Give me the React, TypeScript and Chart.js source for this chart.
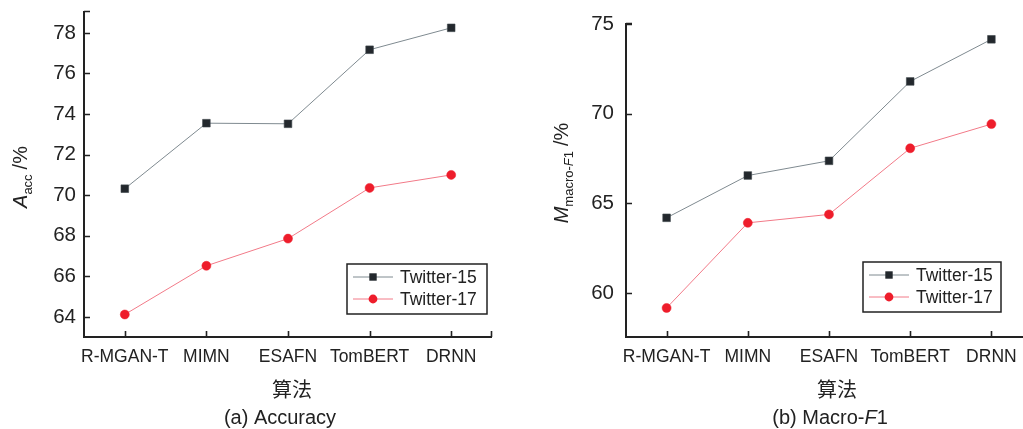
import React, { useEffect, useRef } from 'react';
import { Chart, registerables } from 'chart.js';

Chart.register(...registerables);

const categories = ['R-MGAN-T', 'MIMN', 'ESAFN', 'TomBERT', 'DRNN'];
const seriesNames = ['Twitter-15', 'Twitter-17'];
const accTwitter15 = [70.32, 73.55, 73.52, 77.17, 78.25];
const accTwitter17 = [64.12, 66.52, 67.86, 70.36, 71.0];
const f1Twitter15 = [64.19, 66.55, 67.37, 71.8, 74.15];
const f1Twitter17 = [59.16, 63.91, 64.38, 68.07, 69.42];
const accTicks = [64, 66, 68, 70, 72, 74, 76, 78];
const f1Ticks = [60, 65, 70, 75];
const xTitle = '算法';

const FONT = '"Liberation Sans", Arial, Helvetica, sans-serif';
const CJK = '"Noto Sans CJK SC", sans-serif';
const INK = '#222222';
const C15_LINE = '#7f8a90';
const C15_PT = '#23282d';
const C17_LINE = '#f27a88';
const C17_PT = '#ee1d2b';

type Part = { text: string; italic?: boolean; size: number; dy: number; gap?: number };

type Panel = {
  left: number;
  width: number;
  top: number;
  padRight: number;
  yAxisWidth: number;
  xAxisHeight: number;
  min: number;
  max: number;
  ticks: number[];
  tickPad: number;
  s15: number[];
  s17: number[];
  legend: { x: number; y: number; w: number; h: number };
  yTitle: { x: number; cy: number; parts: Part[] };
  xTitlePos: { x: number; y: number };
  caption: { x: number; y: number; parts: Part[] };
};

function partsWidth(ctx: CanvasRenderingContext2D, parts: Part[]) {
  let w = 0;
  for (const p of parts) {
    ctx.font = `${p.italic ? 'italic ' : ''}${p.size}px ${FONT}`;
    w += ctx.measureText(p.text).width + (p.gap || 0);
  }
  return w;
}

function drawParts(ctx: CanvasRenderingContext2D, parts: Part[], startX: number) {
  let x = startX;
  for (const p of parts) {
    ctx.font = `${p.italic ? 'italic ' : ''}${p.size}px ${FONT}`;
    x += p.gap || 0;
    ctx.fillText(p.text, x, p.dy);
    x += ctx.measureText(p.text).width;
  }
}

function makeDecor(panel: Panel) {
  return {
    id: 'decor',
    afterDraw(chart: any) {
      const ctx: CanvasRenderingContext2D = chart.ctx;
      const area = chart.chartArea;
      const xs = chart.scales.x;
      const ys = chart.scales.y;
      ctx.save();
      ctx.strokeStyle = INK;
      ctx.fillStyle = INK;
      // axes
      ctx.lineWidth = 2;
      ctx.beginPath();
      ctx.moveTo(area.left, area.top);
      ctx.lineTo(area.left, area.bottom);
      ctx.lineTo(area.right, area.bottom);
      ctx.stroke();
      // inward ticks
      ctx.lineWidth = 1.6;
      ctx.beginPath();
      for (const v of panel.ticks) {
        const py = Math.round(ys.getPixelForValue(v)) + 0.5;
        ctx.moveTo(area.left, py);
        ctx.lineTo(area.left + 6, py);
      }
      ctx.moveTo(area.left, area.top + 0.5);
      ctx.lineTo(area.left + 6, area.top + 0.5);
      categories.forEach((_, i) => {
        const px = Math.round(xs.getPixelForValue(i)) + 0.5;
        ctx.moveTo(px, area.bottom);
        ctx.lineTo(px, area.bottom - 6);
      });
      ctx.moveTo(area.right - 0.5, area.bottom);
      ctx.lineTo(area.right - 0.5, area.bottom - 6);
      ctx.stroke();

      // legend
      const lg = panel.legend;
      ctx.lineWidth = 1.5;
      ctx.strokeRect(lg.x, lg.y, lg.w, lg.h);
      const rows = [lg.y + 13, lg.y + 35];
      rows.forEach((ry, i) => {
        ctx.lineWidth = 1;
        ctx.strokeStyle = i === 0 ? C15_LINE : C17_LINE;
        ctx.beginPath();
        ctx.moveTo(lg.x + 6, ry);
        ctx.lineTo(lg.x + 46, ry);
        ctx.stroke();
        ctx.fillStyle = i === 0 ? C15_PT : C17_PT;
        if (i === 0) {
          ctx.fillRect(lg.x + 26 - 3.7, ry - 3.7, 7.4, 7.4);
        } else {
          ctx.beginPath();
          ctx.arc(lg.x + 26, ry, 4.4, 0, Math.PI * 2);
          ctx.fill();
        }
        ctx.fillStyle = INK;
        ctx.font = `17.5px ${FONT}`;
        ctx.textAlign = 'left';
        ctx.textBaseline = 'middle';
        ctx.fillText(seriesNames[i], lg.x + 53, ry + 1);
      });
      ctx.strokeStyle = INK;
      ctx.fillStyle = INK;

      // x title
      ctx.font = `20px ${CJK}`;
      ctx.textAlign = 'center';
      ctx.textBaseline = 'middle';
      ctx.fillText(xTitle, panel.xTitlePos.x, panel.xTitlePos.y);

      // caption
      ctx.textAlign = 'left';
      ctx.textBaseline = 'middle';
      const cw = partsWidth(ctx, panel.caption.parts);
      ctx.save();
      ctx.translate(panel.caption.x - cw / 2, panel.caption.y);
      drawParts(ctx, panel.caption.parts, 0);
      ctx.restore();

      // y title (rotated)
      ctx.textBaseline = 'alphabetic';
      const tw = partsWidth(ctx, panel.yTitle.parts);
      ctx.save();
      ctx.translate(panel.yTitle.x, panel.yTitle.cy);
      ctx.rotate(-Math.PI / 2);
      drawParts(ctx, panel.yTitle.parts, -tw / 2);
      ctx.restore();

      ctx.restore();
    },
  };
}

function makeChart(canvas: HTMLCanvasElement, panel: Panel) {
  return new Chart(canvas, {
    type: 'line',
    data: {
      labels: categories,
      datasets: [
        {
          label: seriesNames[0],
          data: panel.s15,
          borderColor: C15_LINE,
          borderWidth: 1,
          pointStyle: 'rect',
          pointRadius: 5.4,
          pointBackgroundColor: C15_PT,
          pointBorderColor: '#3c4449',
          pointBorderWidth: 0.6,
          tension: 0,
        },
        {
          label: seriesNames[1],
          data: panel.s17,
          borderColor: C17_LINE,
          borderWidth: 1,
          pointStyle: 'circle',
          pointRadius: 4.5,
          pointBackgroundColor: C17_PT,
          pointBorderColor: C17_PT,
          pointBorderWidth: 0.5,
          tension: 0,
        },
      ],
    },
    options: {
      responsive: false,
      animation: false,
      devicePixelRatio: 1,
      layout: { padding: { top: panel.top, left: 0, right: panel.padRight, bottom: 0 } },
      plugins: { legend: { display: false }, tooltip: { enabled: false }, title: { display: false } },
      scales: {
        x: {
          type: 'category',
          offset: true,
          grid: { display: false, drawTicks: false },
          border: { display: false },
          ticks: {
            font: { family: FONT, size: 17.5 },
            color: INK,
            padding: 10,
            maxRotation: 0,
            minRotation: 0,
            autoSkip: false,
          },
          afterFit: (s: any) => {
            s.height = panel.xAxisHeight;
            s.paddingLeft = 0;
            s.paddingRight = 0;
            s.paddingTop = 0;
            s.paddingBottom = 0;
          },
        },
        y: {
          type: 'linear',
          min: panel.min,
          max: panel.max,
          grid: { display: false, drawTicks: false },
          border: { display: false },
          ticks: {
            font: { family: FONT, size: 20.5 },
            color: INK,
            padding: panel.tickPad,
          },
          afterBuildTicks: (s: any) => {
            s.ticks = panel.ticks.map((v) => ({ value: v }));
          },
          afterFit: (s: any) => {
            s.width = panel.yAxisWidth;
            s.paddingLeft = 0;
            s.paddingRight = 0;
            s.paddingTop = 0;
            s.paddingBottom = 0;
          },
        },
      },
    },
    plugins: [makeDecor(panel)],
  } as any);
}

const H = 429;

const panelA: Panel = {
  left: 0,
  width: 512,
  top: 11,
  padRight: 20,
  yAxisWidth: 84,
  xAxisHeight: 92,
  min: 63.01,
  max: 79.08,
  ticks: accTicks,
  tickPad: 8,
  s15: accTwitter15,
  s17: accTwitter17,
  legend: { x: 347, y: 264, w: 140, h: 50 },
  yTitle: {
    x: 27,
    cy: 177,
    parts: [
      { text: 'A', italic: true, size: 20, dy: 0 },
      { text: 'acc', size: 13, dy: 5 },
      { text: '/%', size: 20, dy: 0, gap: 5 },
    ],
  },
  xTitlePos: { x: 292, y: 389 },
  caption: {
    x: 280,
    y: 418,
    parts: [{ text: '(a) Accuracy', size: 20, dy: 0 }],
  },
};

const panelB: Panel = {
  left: 512,
  width: 540,
  top: 23,
  padRight: 20,
  yAxisWidth: 114,
  xAxisHeight: 92,
  min: 57.54,
  max: 75.06,
  ticks: f1Ticks,
  tickPad: 12,
  s15: f1Twitter15,
  s17: f1Twitter17,
  legend: { x: 351, y: 262, w: 138, h: 50 },
  yTitle: {
    x: 56,
    cy: 173,
    parts: [
      { text: 'M', italic: true, size: 20, dy: 0 },
      { text: 'macro-', size: 13, dy: 5 },
      { text: 'F', italic: true, size: 13, dy: 5 },
      { text: '1', size: 13, dy: 5 },
      { text: '/%', size: 20, dy: 0, gap: 5 },
    ],
  },
  xTitlePos: { x: 325, y: 389 },
  caption: {
    x: 318,
    y: 418,
    parts: [
      { text: '(b) Macro-', size: 20, dy: 0 },
      { text: 'F', italic: true, size: 20, dy: 0 },
      { text: '1', size: 20, dy: 0 },
    ],
  },
};

function PanelChart({ panel }: { panel: Panel }) {
  const ref = useRef<HTMLCanvasElement | null>(null);
  useEffect(() => {
    if (!ref.current) return;
    const c = makeChart(ref.current, panel);
    return () => c.destroy();
  }, [panel]);
  return (
    <canvas
      ref={ref}
      width={panel.width}
      height={H}
      style={{ position: 'absolute', left: panel.left, top: 0, width: panel.width, height: H }}
    />
  );
}

export default function App() {
  return (
    <div
      style={{
        position: 'fixed',
        left: 0,
        top: 0,
        width: 1023,
        height: H,
        overflow: 'hidden',
        background: '#ffffff',
      }}
    >
      <PanelChart panel={panelA} />
      <PanelChart panel={panelB} />
    </div>
  );
}
